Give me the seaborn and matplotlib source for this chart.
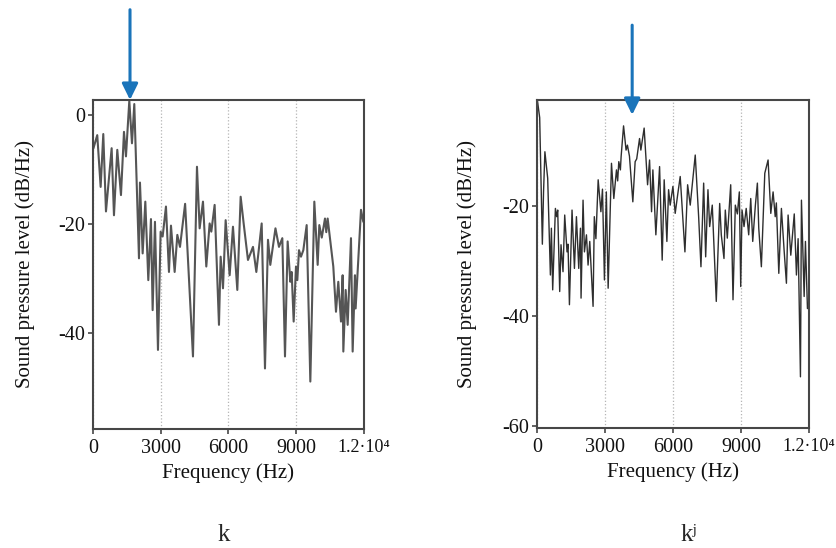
import numpy as np
import pandas as pd
import matplotlib
matplotlib.use("Agg")
import matplotlib.pyplot as plt
import seaborn as sns

# spectrum of [k] (left) and [kʲ] (right)
left_freq = [15, 190, 340, 457, 576, 827, 930, 1077, 1240, 1373, 1461, 1609, 1727, 1830,
             2037, 2081, 2200, 2318, 2450, 2568, 2642, 2745, 2878, 2996, 3085, 3232, 3365,
             3454, 3617, 3735, 3853, 4080, 4428, 4605, 4723, 4871, 5018, 5166, 5240, 5387,
             5579, 5653, 5757, 5875, 6052, 6199, 6391, 6539, 6672, 6863, 7085, 7233, 7470,
             7616, 7749, 7852, 8080, 8236, 8384, 8502, 8620, 8738, 8797, 8886, 8989, 9048,
             9122, 9210, 9314, 9462, 9624, 9801, 9949, 10022, 10130, 10273, 10330, 10391,
             10641, 10760, 10862, 10982, 11055, 11085, 11188, 11277, 11424, 11498, 11600,
             11630, 11867, 11970]
left_db = [-6.2, -3.7, -13.2, -3.5, -17.7, -6.1, -18.4, -6.4, -14.7, -3.1, -7.6, 2.6, -5.2, 2.0,
           -26.3, -12.4, -25.4, -15.9, -30.3, -19.1, -35.8, -19.6, -43.1, -21.4, -22.3, -16.8, -28.8,
           -20.3, -28.8, -22.0, -24.2, -16.3, -44.3, -9.5, -20.8, -15.9, -27.8, -19.9, -21.4, -16.5,
           -38.5, -26.0, -31.8, -19.3, -29.4, -20.5, -32.1, -15.0, -19.9, -26.6, -24.2, -28.8, -19.9,
           -46.5, -22.9, -27.5, -20.8, -24.2, -22.6, -44.3, -23.2, -30.6, -28.8, -37.9, -27.8, -30.3,
           -24.8, -26.0, -24.8, -20.2, -48.9, -15.9, -27.5, -20.2, -22.5, -19.0, -21.5, -19.0,
           -27.8, -36.1, -30.6, -37.9, -29.4, -43.4, -32.1, -38.5, -22.6, -43.4, -29.4,
           -35.5, -17.4, -19.6]

right_freq = [20, 120, 238, 290, 350, 473, 592, 636, 694, 813, 870, 915, 1003, 1061, 1149,
              1224, 1326, 1370, 1432, 1547, 1653, 1741, 1843, 1918, 1945, 2033, 2094, 2183,
              2254, 2329, 2475, 2530, 2600, 2700, 2820, 2890, 2976, 3060, 3140, 3287, 3390,
              3507, 3560, 3610, 3680, 3712, 3820, 3930, 3990, 4080, 4229, 4331, 4400, 4525,
              4583, 4728, 4879, 4967, 5055, 5113, 5245, 5409, 5524, 5612, 5731, 5806, 5877,
              5997, 6098, 6204, 6319, 6527, 6646, 6761, 6982, 7132, 7234, 7353, 7442, 7543,
              7618, 7733, 7910, 8060, 8131, 8250, 8308, 8396, 8546, 8648, 8750, 8840, 8927,
              8988, 9046, 9134, 9230, 9340, 9430, 9518, 9635, 9723, 9784, 9899, 10050, 10195,
              10315, 10416, 10510, 10560, 10668, 10783, 10902, 11004, 11078, 11197, 11350,
              11446, 11520, 11623, 11667, 11786, 11843, 11932, 12000]
right_db = [-0.9, -4.0, -27.0, -17.5, -10.2, -15.0, -32.6, -24.1, -35.3, -20.5, -22.0, -20.8, -35.6, -27.1, -32.0,
            -21.7, -28.4, -27.0, -38.0, -20.8, -31.4, -22.0, -31.4, -24.1, -36.8, -19.0, -28.4, -25.3,
            -30.8, -26.5, -38.3, -22.0, -26.0, -15.3, -21.1, -17.0, -33.5, -17.5, -35.0, -12.3, -18.7,
            -13.5, -15.5, -12.0, -13.5, -11.1, -5.5, -9.9, -9.0, -11.0, -19.3, -12.0, -11.5, -7.8,
            -9.9, -5.9, -16.2, -11.7, -21.1, -13.5, -25.3, -12.9, -29.9, -15.3, -26.5, -17.1, -19.9,
            -16.5, -21.4, -18.1, -14.7, -28.4, -16.2, -19.9, -10.8, -22.0, -31.1, -15.9, -29.3, -17.1,
            -23.8, -19.9, -37.4, -19.6, -25.3, -29.6, -20.8, -25.9, -16.2, -37.1, -19.9, -21.5, -17.5,
            -34.7, -20.8, -23.8, -20.5, -25.3, -18.7, -26.5, -19.9, -15.9, -24.1, -31.1, -14.1, -11.7,
            -21.4, -17.5, -22.0, -19.5, -32.3, -20.5, -28.1, -34.1, -21.7, -29.0, -21.5,
            -32.6, -26.0, -51.1, -19.0, -36.5, -26.5, -38.7, -38.0]

x_ticks = [0, 3000, 6000, 9000, 12000]
x_tick_labels = ["0", "3000", "6000", "9000", "1.2·10⁴"]
left_yticks = [0, -20, -40]
right_yticks = [-20, -40, -60]
captions = ["k", "kʲ"]

ARROW_BLUE = "#1a74ba"
SPINE = "#474747"

sns.set_style("white")
plt.rcParams["font.family"] = ["Liberation Serif", "DejaVu Serif"]
plt.rcParams["axes.unicode_minus"] = False


def spectrum_panel(ax, freq, db, ylim, yticks, color, lw, arrow_f, arrow_top, arrow_tip):
    df = pd.DataFrame({"freq": freq, "db": db})
    sns.lineplot(data=df, x="freq", y="db", ax=ax, color=color, linewidth=lw,
                 estimator=None, sort=False)
    ax.set_xlim(0, 12000)
    ax.set_ylim(*ylim)
    ax.set_xticks(x_ticks, x_tick_labels)
    ax.set_yticks(yticks, [str(t) for t in yticks])
    ax.grid(axis="x", linestyle=":", color="#b5b5b5", linewidth=0.9)
    ax.set_axisbelow(True)
    for s in ax.spines.values():
        s.set_color(SPINE)
        s.set_linewidth(1.5)
    ax.tick_params(bottom=True, left=True, top=False, right=False, direction="out",
                   length=3.5, width=1.2, color=SPINE, labelsize=14.5, labelcolor="#111111")
    ax.tick_params(axis="x", pad=4)
    ax.tick_params(axis="y", pad=2)
    # the last label is set a little tighter, as in the original
    ax.get_xticklabels()[-1].set_fontsize(13)
    ax.set_xlabel("Frequency (Hz)", fontsize=15, color="#111111")
    ax.set_ylabel("Sound pressure level (dB/Hz)", fontsize=15, color="#111111")
    ax.annotate("", xy=(arrow_f, arrow_tip), xytext=(arrow_f, arrow_top),
                arrowprops=dict(arrowstyle="-|>,head_length=0.65,head_width=0.32",
                                color=ARROW_BLUE, lw=2.2, shrinkA=0, shrinkB=0,
                                mutation_scale=15),
                annotation_clip=False)


fig = plt.figure(figsize=(8.36, 5.48), dpi=100)
ax1 = fig.add_axes([0.1112, 0.2172, 0.3242, 0.6004])
ax2 = fig.add_axes([0.6423, 0.2190, 0.3254, 0.5985])

spectrum_panel(ax1, left_freq, left_db, (-57.6, 2.75), left_yticks, "#555555", 1.5,
               1640, 19.3, 2.75)
spectrum_panel(ax2, right_freq, right_db, (-60.4, -0.8), right_yticks, "#2e2e2e", 1.0,
               4200, 12.8, -3.5)

ax1.yaxis.set_label_coords(-0.214, 0.5)
ax2.yaxis.set_label_coords(-0.220, 0.5)
ax1.xaxis.set_label_coords(0.5, -0.103)
ax2.xaxis.set_label_coords(0.5, -0.103)

fig.text(0.268, 0.024, captions[0], fontsize=18, ha="center", va="center")
fig.text(0.824, 0.024, captions[1], fontsize=18, ha="center", va="center")

fig.savefig("out.png", dpi=100)
